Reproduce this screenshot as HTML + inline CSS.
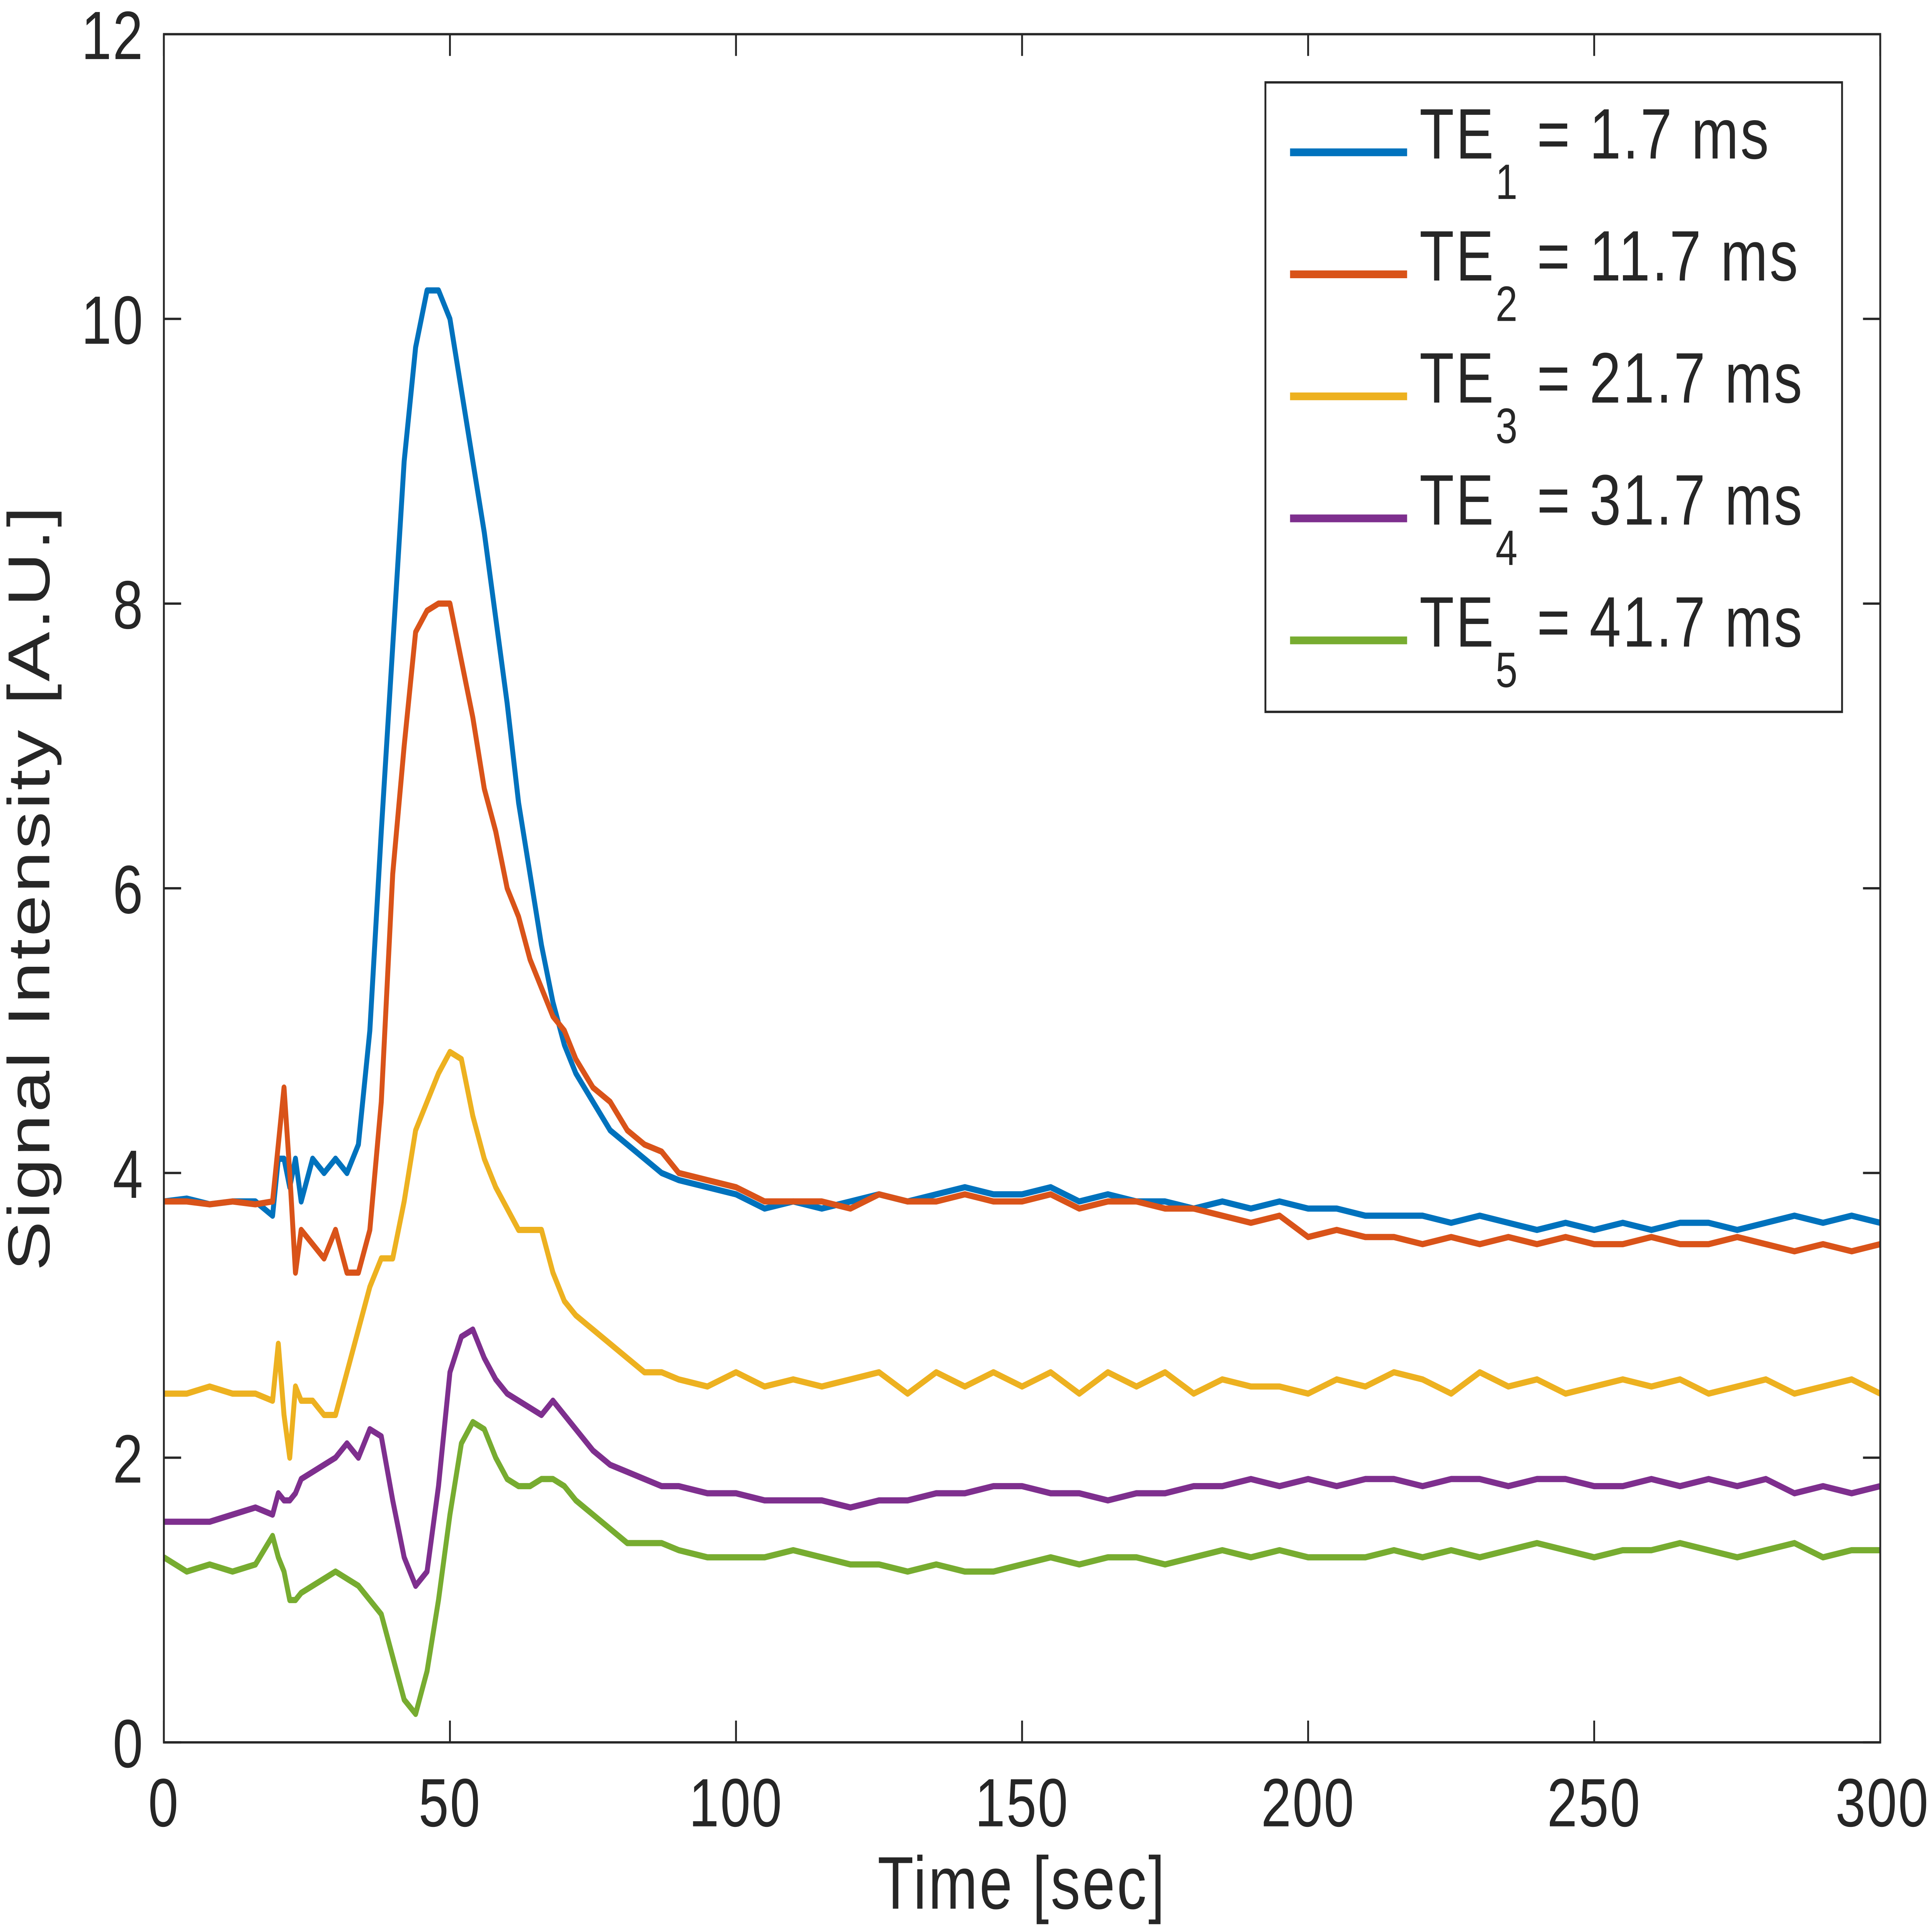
<!DOCTYPE html>
<html><head><meta charset="utf-8"><style>
html,body{margin:0;padding:0;background:#fff;width:100%;height:100%;overflow:hidden}
svg{display:block;position:fixed;left:0;top:0;width:100vw;height:100vh}
text{font-family:"Liberation Sans",sans-serif;fill:#262626}
</style></head><body>
<svg id="chart" viewBox="0 0 1568 1243" preserveAspectRatio="none" xmlns="http://www.w3.org/2000/svg">
<g id="plot"></g>
<g id="axes"></g>
<g id="legend"></g>
</svg>
<script>
const t = [0,4,8,12,16,19,20,21,22,23,24,26,28,30,32,34,36,38,40,42,44,46,48,50,52,54,56,58,60,62,64,66,68,70,72,75,78,81,84,87,90,95,100,105,110,115,120,125,130,135,140,145,150,155,160,165,170,175,180,185,190,195,200,205,210,215,220,225,230,235,240,245,250,255,260,265,270,275,280,285,290,295,300];
const te1 = [3.8,3.82,3.78,3.8,3.8,3.7,4.1,4.1,3.9,4.1,3.8,4.1,4.0,4.1,4.0,4.2,5.0,6.4,7.7,9.0,9.8,10.2,10.2,10.0,9.5,9.0,8.5,7.9,7.3,6.6,6.1,5.6,5.2,4.9,4.7,4.5,4.3,4.2,4.1,4.0,3.95,3.9,3.85,3.75,3.8,3.75,3.8,3.85,3.8,3.85,3.9,3.85,3.85,3.9,3.8,3.85,3.8,3.8,3.75,3.8,3.75,3.8,3.75,3.75,3.7,3.7,3.7,3.65,3.7,3.65,3.6,3.65,3.6,3.65,3.6,3.65,3.65,3.6,3.65,3.7,3.65,3.7,3.65];
const te2 = [3.8,3.8,3.78,3.8,3.78,3.8,4.2,4.6,4.0,3.3,3.6,3.5,3.4,3.6,3.3,3.3,3.6,4.5,6.1,7.0,7.8,7.95,8.0,8.0,7.6,7.2,6.7,6.4,6.0,5.8,5.5,5.3,5.1,5.0,4.8,4.6,4.5,4.3,4.2,4.15,4.0,3.95,3.9,3.8,3.8,3.8,3.75,3.85,3.8,3.8,3.85,3.8,3.8,3.85,3.75,3.8,3.8,3.75,3.75,3.7,3.65,3.7,3.55,3.6,3.55,3.55,3.5,3.55,3.5,3.55,3.5,3.55,3.5,3.5,3.55,3.5,3.5,3.55,3.5,3.45,3.5,3.45,3.5];
const te3 = [2.45,2.45,2.5,2.45,2.45,2.4,2.8,2.3,2.0,2.5,2.4,2.4,2.3,2.3,2.6,2.9,3.2,3.4,3.4,3.8,4.3,4.5,4.7,4.85,4.8,4.4,4.1,3.9,3.75,3.6,3.6,3.6,3.3,3.1,3.0,2.9,2.8,2.7,2.6,2.6,2.55,2.5,2.6,2.5,2.55,2.5,2.55,2.6,2.45,2.6,2.5,2.6,2.5,2.6,2.45,2.6,2.5,2.6,2.45,2.55,2.5,2.5,2.45,2.55,2.5,2.6,2.55,2.45,2.6,2.5,2.55,2.45,2.5,2.55,2.5,2.55,2.45,2.5,2.55,2.45,2.5,2.55,2.45];
const te4 = [1.55,1.55,1.55,1.6,1.65,1.6,1.75,1.7,1.7,1.75,1.85,1.9,1.95,2.0,2.1,2.0,2.2,2.15,1.7,1.3,1.1,1.2,1.8,2.6,2.85,2.9,2.7,2.55,2.45,2.4,2.35,2.3,2.4,2.3,2.2,2.05,1.95,1.9,1.85,1.8,1.8,1.75,1.75,1.7,1.7,1.7,1.65,1.7,1.7,1.75,1.75,1.8,1.8,1.75,1.75,1.7,1.75,1.75,1.8,1.8,1.85,1.8,1.85,1.8,1.85,1.85,1.8,1.85,1.85,1.8,1.85,1.85,1.8,1.8,1.85,1.8,1.85,1.8,1.85,1.75,1.8,1.75,1.8];
const te5 = [1.3,1.2,1.25,1.2,1.25,1.45,1.3,1.2,1.0,1.0,1.05,1.1,1.15,1.2,1.15,1.1,1.0,0.9,0.6,0.3,0.2,0.5,1.0,1.6,2.1,2.25,2.2,2.0,1.85,1.8,1.8,1.85,1.85,1.8,1.7,1.6,1.5,1.4,1.4,1.4,1.35,1.3,1.3,1.3,1.35,1.3,1.25,1.25,1.2,1.25,1.2,1.2,1.25,1.3,1.25,1.3,1.3,1.25,1.3,1.35,1.3,1.35,1.3,1.3,1.3,1.35,1.3,1.35,1.3,1.35,1.4,1.35,1.3,1.35,1.35,1.4,1.35,1.3,1.35,1.4,1.3,1.35,1.35];
const series = [te1,te2,te3,te4,te5];
const colors = ["#0072BD","#D95319","#EDB120","#7E2F8E","#77AC30"];
const seriesNames = ["te1","te2","te3","te4","te5"];
const legendNums = ["1","2","3","4","5"];
const legendVals = ["1.7","11.7","21.7","31.7","41.7"];
const xTicks = [0,50,100,150,200,250,300];
const yTicks = [0,2,4,6,8,10,12];

const L=133,R=1526,T=22,B=1121;
const xs = v => L + (v-0)/(300)*(R-L);
const ys = v => B - v/12*(B-T);
const NS="http://www.w3.org/2000/svg";
function mk(tag, attrs, parent){const e=document.createElementNS(NS,tag);for(const k in attrs)e.setAttribute(k,attrs[k]);parent.appendChild(e);return e;}
const plot=document.getElementById('plot'), axes=document.getElementById('axes'), leg=document.getElementById('legend');

series.forEach((s,i)=>{
  const d=s.map((v,j)=>(j?'L':'M')+xs(t[j]).toFixed(2)+','+ys(v).toFixed(2)).join(' ');
  const p=mk('path',{d:d,fill:'none',stroke:colors[i],'stroke-width':4,'stroke-linejoin':'round'},plot);
  
  
});

const box=mk('rect',{x:L,y:T,width:R-L,height:B-T,fill:'none',stroke:'#262626','stroke-width':1.5},axes);


xTicks.forEach((v,i)=>{
  const x=xs(v);
  mk('line',{x1:x,x2:x,y1:B,y2:B-14,stroke:'#262626','stroke-width':1.5},axes);
  mk('line',{x1:x,x2:x,y1:T,y2:T+14,stroke:'#262626','stroke-width':1.5},axes);
  const last = i===xTicks.length-1;
  const tx=mk('text',{x:last? 1566 : x,y:B+54,'text-anchor':last?'end':'middle','font-size':44,'letter-spacing':1},axes);
  tx.textContent=v;
  
  
});
yTicks.forEach(v=>{
  const y=ys(v);
  mk('line',{x1:L,x2:L+14,y1:y,y2:y,stroke:'#262626','stroke-width':1.5},axes);
  mk('line',{x1:R,x2:R-14,y1:y,y2:y,stroke:'#262626','stroke-width':1.5},axes);
  const tx=mk('text',{x:L-16,y:y+16,'text-anchor':'end','font-size':44,'letter-spacing':1},axes);
  tx.textContent=v;
  
  
});
const xl=mk('text',{x:(L+R)/2,y:1228,'text-anchor':'middle','font-size':48,'letter-spacing':1.5},axes);
xl.textContent='Time [sec]';


const yl=mk('text',{x:0,y:0,'text-anchor':'middle','font-size':48,'letter-spacing':1.5,transform:'translate(40,571) rotate(-90)'},axes);
yl.textContent='Signal Intensity [A.U.]';



const lb=mk('rect',{x:1027,y:53,width:468,height:405,fill:'#fff',stroke:'#262626','stroke-width':1.5},leg);


series.forEach((s,i)=>{
  const y=98+i*78.5;
  const g=mk('g',{},leg);
  
  
  mk('line',{x1:1047,x2:1142,y1:y,y2:y,stroke:colors[i],'stroke-width':5},g);
  const tx=mk('text',{x:1152,y:y+4,'font-size':46,'letter-spacing':1.5},g);
  tx.innerHTML='TE<tspan font-size="32" dy="26">'+legendNums[i]+'</tspan><tspan dy="-26"> = '+legendVals[i]+' ms</tspan>';
});
</script>
</body></html>
